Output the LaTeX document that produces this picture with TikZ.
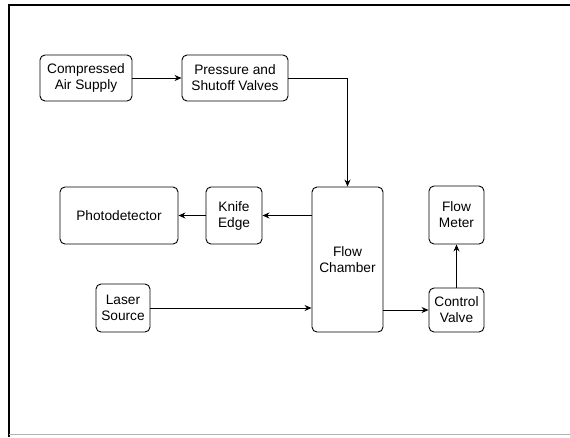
\documentclass[tikz,border=0pt]{standalone}
\usepackage{fontspec}
\setmainfont{Liberation Sans}
\usetikzlibrary{arrows.meta}

\begin{document}
\begin{tikzpicture}
	[
		x=1pt, y=-1pt,
		% Rounded box for every block.
		block/.style={draw, rounded corners=5pt, line width=0.9pt, align=center,
			font=\fontsize{13.7}{16}\selectfont, inner sep=0pt},
		% And the connecting arrows.
		flow/.style={line width=0.9pt, -{Stealth[length=7pt,width=6pt]}}
	]
		\useasboundingbox (0,0) rectangle (570,437);
		% Frame of the page
		\draw[line width=1.2pt] (9,437) -- (9,5) -- (570,5);
		\draw[gray!60, line width=1pt] (9,434) -- (570,434);

		\node[block, minimum width=92pt, minimum height=46pt] (air) at (86,78)
			{Compressed\\Air Supply};
		\node[block, minimum width=106pt, minimum height=46pt] (valves) at (235,78)
			{Pressure and\\Shutoff Valves};
		\node[block, minimum width=71pt, minimum height=145pt] (chamber) at (347.5,259.5)
			{Flow\\Chamber};
		\node[block, minimum width=56pt, minimum height=57pt] (knife) at (234,215.5)
			{Knife\\Edge};
		\node[block, minimum width=118pt, minimum height=57pt] (photo) at (119,215.5)
			{Photodetector};
		\node[block, minimum width=54pt, minimum height=48pt] (laser) at (123,308)
			{Laser\\Source};
		\node[block, minimum width=55pt, minimum height=44pt] (control) at (456.5,310)
			{Control\\Valve};
		\node[block, minimum width=55pt, minimum height=58pt] (meter) at (456.5,215)
			{Flow\\Meter};

		% Draw arrows
		\draw[flow] (air) -- (valves);
		\draw[flow] (valves.east) -| (chamber.north);
		\draw[flow] (knife.east -| chamber.west) -- (knife.east);
		\draw[flow] (knife) -- (photo);
		\draw[flow] (laser.east) -- (laser.east -| chamber.west);
		\draw[flow] (control.west -| chamber.east) -- (control.west);
		\draw[flow] (control) -- (meter);
	\end{tikzpicture}
\end{document}
